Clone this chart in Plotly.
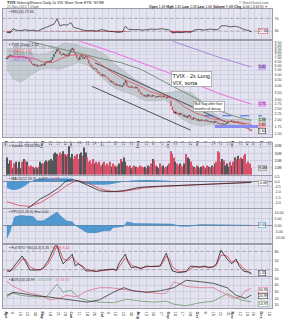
import numpy as np
import pandas as pd
import plotly.graph_objects as go

# ---------------- dates (trading days) ----------------
holidays = ["2012-04-06", "2012-05-28", "2012-07-04", "2012-09-03",
            "2012-10-29", "2012-10-30", "2012-11-22"]
all_days = [d for d in pd.bdate_range("2012-04-02", "2012-12-14")
            if d.strftime("%Y-%m-%d") not in holidays]

# ---------------- price data (daily) ----------------
closes = [7.05, 7.30, 7.45, 7.20, 7.35, 7.15, 7.25, 7.10, 7.20, 7.30,
          7.15, 7.20, 7.05, 7.10, 6.95, 6.60, 6.30, 6.10, 6.20, 6.00,
          6.10, 5.95, 6.05, 6.15, 6.00, 6.30, 6.55, 6.45, 6.60, 6.70,
          7.10, 7.60, 7.95, 8.40, 8.20, 7.60, 7.45, 7.70, 7.40, 7.55,
          7.30, 7.80, 8.30, 8.60, 7.90, 7.50, 7.05, 6.70, 7.20, 7.50,
          6.90, 7.10, 7.25, 6.80, 6.30, 6.00, 5.80, 5.60, 5.70, 5.40,
          5.20, 5.10, 4.95, 5.05, 4.85, 4.80, 4.70, 4.50, 4.35, 4.40,
          4.20, 4.10, 4.15, 4.00, 4.05, 3.95, 4.00, 4.20, 4.45, 3.95,
          3.90, 3.85, 3.95, 3.85, 3.80, 3.90, 3.75, 3.55, 3.40, 3.35,
          3.25, 3.30, 3.20, 3.35, 3.25, 3.20, 3.30, 3.25, 3.15, 3.20,
          3.25, 3.20, 3.15, 3.25, 3.20, 3.10, 3.20, 3.15, 2.65, 2.45,
          2.30, 2.35, 2.25, 2.20, 2.30, 2.25, 2.15, 2.20, 2.10, 2.15,
          2.20, 2.05, 2.00, 2.10, 2.05, 1.98, 2.02, 1.95, 2.00, 1.97,
          1.95, 2.00, 1.92, 1.95, 1.90, 1.93, 1.88, 1.95, 1.90, 1.86,
          1.84, 1.82, 1.86, 1.80, 1.83, 1.90, 1.95, 1.92, 1.97, 1.90,
          1.93, 1.88, 1.92, 1.85, 1.84, 1.86, 1.82, 1.78, 1.68, 1.66,
          1.62, 1.60]
opens = [6.90, 7.10, 7.35, 7.40, 7.25, 7.30, 7.20, 7.20, 7.15, 7.20,
         7.25, 7.10, 7.20, 7.00, 7.05, 6.85, 6.55, 6.25, 6.05, 6.15,
         5.95, 6.05, 6.00, 6.05, 6.20, 6.05, 6.35, 6.60, 6.50, 6.55,
         6.80, 7.20, 7.70, 8.00, 8.45, 8.10, 7.55, 7.50, 7.65, 7.35,
         7.50, 7.35, 7.85, 8.30, 8.50, 7.85, 7.45, 7.00, 6.80, 7.25,
         7.40, 6.95, 7.15, 7.20, 6.75, 6.25, 6.05, 5.75, 5.65, 5.65,
         5.35, 5.25, 5.05, 4.90, 5.00, 4.90, 4.75, 4.65, 4.50, 4.30,
         4.35, 4.20, 4.05, 4.10, 3.98, 4.05, 3.90, 4.05, 4.25, 4.35,
         3.98, 3.92, 3.88, 3.92, 3.88, 3.82, 3.88, 3.72, 3.52, 3.42,
         3.32, 3.22, 3.28, 3.22, 3.32, 3.27, 3.22, 3.28, 3.22, 3.18,
         3.20, 3.27, 3.20, 3.18, 3.27, 3.18, 3.12, 3.22, 2.95, 2.60,
         2.42, 2.28, 2.33, 2.27, 2.22, 2.28, 2.24, 2.14, 2.18, 2.08,
         2.14, 2.18, 2.06, 2.02, 2.08, 2.04, 1.97, 2.00, 1.96, 1.99,
         1.97, 1.96, 1.98, 1.93, 1.94, 1.91, 1.92, 1.89, 1.94, 1.89,
         1.87, 1.85, 1.83, 1.85, 1.81, 1.85, 1.90, 1.94, 1.93, 1.96,
         1.90, 1.92, 1.89, 1.91, 1.86, 1.85, 1.85, 1.81, 1.76, 1.69,
         1.65, 1.63]
volume_m = [24, 15.5, 20, 20, 9, 15.5, 18, 9, 18, 9,
            18, 22, 20, 18, 13, 11, 13, 11, 9, 11,
            9, 11, 18, 15.5, 15.5, 18, 20, 18, 20, 22,
            20, 29, 31, 29, 26.7, 31, 29, 33, 29, 26.7,
            29, 40, 24, 29, 22, 26.7, 29, 22, 29, 31,
            26.7, 38, 31, 24, 18, 20, 15.5, 22, 15.5, 18,
            15.5, 18, 13, 15.5, 18, 13, 15.5, 13, 18, 11,
            15.5, 13, 11, 13, 15.5, 22, 18, 24, 18, 13,
            11, 13, 9, 11, 13, 11, 9, 11, 13, 11,
            10, 11, 9, 13, 11, 15.5, 22, 20, 13, 11,
            9, 15.5, 11, 13, 9, 11, 13, 15.5, 33, 29,
            24, 18, 15.5, 13, 15.5, 13, 11, 15.5, 29, 24,
            22, 18, 13, 11, 9, 13, 11, 9, 11, 13,
            11, 9, 13, 11, 10, 13, 11, 15.5, 18, 33,
            31, 18, 22, 20, 13, 15.5, 11, 18, 13, 18,
            24, 22, 26.7, 22, 24, 22, 26.7, 29, 15.5, 18,
            15.5, 9.4]

# ---------------- overlays (read as knots: trading-day index, value) ----------------
ma20_idx = [0, 10, 17, 24, 30, 36, 42, 50, 54, 59, 68, 78, 88, 94, 104, 111, 117, 124, 134, 144, 153, 161]
ma20_val = [7.25, 7.2, 7.0, 6.45, 6.4, 7.0, 7.45, 7.5, 7.2, 6.6, 5.4, 4.5, 3.95, 3.55, 3.28, 3.0, 2.6, 2.3, 2.07, 1.95, 1.9, 1.82]
ma50_idx = [0, 17, 33, 46, 61, 75, 88, 100, 110, 120, 130, 140, 150, 161]
ma50_val = [11.0, 9.7, 8.6, 7.8, 7.0, 6.4, 5.6, 4.6, 3.9, 3.3, 2.8, 2.4, 2.15, 1.98]
ma100_idx = [30, 48, 70, 91, 110, 127, 140, 161]
ma100_val = [11.5, 9.9, 7.9, 6.2, 5.0, 4.0, 3.4, 2.75]
ma200_idx = [60, 90, 109, 125, 140, 161]
ma200_val = [17.0, 14.0, 9.9, 8.4, 7.1, 5.85]
bb_up_idx = [0, 9, 22, 28, 33, 38, 45, 51, 58, 65, 71, 78, 84, 91, 98, 104, 109, 114, 121, 127, 134, 140, 147, 154, 161]
bb_up_val = [8.5, 7.9, 7.6, 7.8, 8.8, 9.5, 9.3, 8.7, 8.3, 7.5, 6.2, 5.3, 4.6, 4.1, 3.6, 3.45, 3.5, 3.6, 3.5, 3.0, 2.4, 2.1, 2.0, 2.03, 2.02]
bb_lo_idx = [0, 4, 9, 15, 22, 28, 35, 42, 47, 53, 58, 65, 71, 78, 84, 91, 98, 104, 109, 114, 121, 127, 134, 140, 147, 154, 161]
bb_lo_val = [5.6, 4.6, 4.3, 4.9, 5.6, 5.7, 5.6, 6.0, 6.4, 6.1, 5.4, 4.4, 3.8, 3.5, 3.3, 2.95, 2.95, 3.0, 2.7, 2.1, 1.85, 1.78, 1.82, 1.80, 1.78, 1.78, 1.60]
chan_up_idx = [58, 144]
chan_up_val = [6.36, 1.92]
chan_lo_idx = [56, 121]
chan_lo_val = [3.95, 1.62]
flag_top_idx = [130, 168]
flag_top_val = [2.17, 2.17]
flag_bot_idx = [137, 169]
flag_bot_val = [1.75, 1.75]

# ---------------- indicators (knots) ----------------
rsi_idx = [0, 2, 4, 6, 9, 12, 15, 17, 20, 23, 26, 29, 31, 33, 35, 37, 40, 42, 44, 47,
           50, 53, 56, 59, 62, 64, 67, 70, 73, 76, 78, 80, 83, 86, 89, 92, 95, 98, 101, 104,
           107, 109, 112, 115, 118, 121, 124, 127, 130, 133, 136, 139, 141, 144, 147, 150, 153, 156, 159, 161]
rsi_val = [26, 24, 37, 33, 31, 34, 31, 33, 30, 36, 41, 46, 52, 68, 46, 50, 49, 57, 41, 38,
           33, 31, 32, 30, 34, 33, 29, 28, 26, 27, 45, 36, 34, 35, 33, 34, 36, 35, 37, 36,
           33, 24, 26, 25, 27, 26, 34, 35, 33, 36, 35, 34, 46, 47, 43, 45, 42, 35, 32, 27]

macd_idx = [0, 8, 15, 22, 28, 34, 39, 43, 47, 52, 57, 61, 66, 70, 77, 82, 87, 95, 105, 115, 127, 138, 149, 161]
macd_val = [-3.2, -3.0, -2.4, -1.64, -1.18, -0.6, 0.06, 0.21, 0.05, -0.25, -0.6, -0.86, -0.95, -0.95, -0.86, -0.7, -0.56, -0.47, -0.40, -0.33, -0.25, -0.2, -0.16, -0.08]
sig_idx = [0, 8, 15, 22, 28, 34, 39, 46, 52, 57, 61, 66, 72, 77, 82, 90, 100, 110, 127, 145, 161]
sig_val = [-1.9, -2.25, -2.35, -2.0, -1.48, -0.95, -0.4, 0.12, -0.05, -0.35, -0.65, -0.85, -0.95, -0.92, -0.82, -0.6, -0.48, -0.4, -0.27, -0.16, -0.07]
hist_idx = [0, 4, 8, 12, 16, 20, 28, 36, 42, 47, 52, 58, 64, 70, 76, 82, 90, 100, 108, 112, 118, 130, 145, 161]
hist_val = [-0.6, -0.8, -0.7, -0.4, 0.0, 0.25, 0.3, 0.3, 0.2, -0.05, -0.2, -0.3, -0.3, -0.2, -0.05, 0.1, 0.15, 0.12, 0.05, -0.03, 0.02, 0.03, 0.02, -0.004]

ppo_idx = [0, 2, 5, 9, 13, 17, 20, 24, 28, 33, 35, 39, 43, 45, 48, 53, 59, 64, 68, 70,
           77, 79, 84, 90, 95, 102, 109, 114, 120, 127, 138, 149, 152, 161]
ppo_val = [-10.1, -5.0, 6.5, 7.7, 7.3, 7.0, 3.5, 3.5, 6.5, 10.4, 7.7, 3.5, 2.7, 0.0, -2.4, -5.8, -5.8, -4.3, -4.3, -1.8,
           -1.0, 2.7, 1.4, 1.4, 1.0, 1.0, 1.0, -0.8, -0.8, 0.6, 0.6, 0.6, 0.2, 0.0]

sto_idx = [0, 2, 4, 7, 10, 12, 15, 19, 22, 24, 27, 30, 32, 33, 35, 37, 40, 43, 45, 47,
           50, 52, 56, 59, 62, 66, 70, 72, 74, 78, 80, 82, 85, 88, 92, 95, 99, 101, 103, 105,
           107, 109, 113, 118, 121, 124, 127, 130, 133, 136, 138, 141, 145, 148, 151, 153, 156, 159, 161]
sto_k = [16, 14, 27, 48, 65, 48, 19, 19, 20, 27, 48, 80, 100, 100, 65, 39, 55, 71, 32, 40,
         28, 16, 16, 14, 18, 20, 22, 17, 42, 71, 42, 26, 30, 23, 32, 30, 32, 32, 55, 74,
         42, 16, 10, 14, 32, 30, 28, 32, 26, 30, 39, 84, 55, 39, 55, 32, 15, 12, 6]
sto_d = [20, 16, 20, 35, 55, 55, 30, 20, 19, 24, 38, 65, 88, 97, 82, 55, 50, 62, 50, 38,
         32, 22, 17, 15, 16, 19, 21, 19, 30, 58, 50, 35, 28, 26, 29, 31, 31, 32, 45, 65,
         55, 30, 14, 13, 24, 30, 29, 30, 29, 29, 34, 68, 65, 45, 48, 40, 24, 14, 9]

mdi_idx = [0, 4, 13, 22, 28, 35, 39, 46, 53, 61, 68, 75, 83, 94, 101, 105, 110, 118, 127, 136, 140, 145, 149, 154, 157, 161]
mdi_val = [45.7, 38, 29, 24.7, 18, 20.3, 24.7, 22.6, 31.4, 36, 36, 33.7, 31.4, 29.2, 27, 27.9, 44.8, 38, 36, 36, 31.4, 24.7, 20.3, 22.6, 31.4, 34.9]
adx_idx = [0, 4, 11, 17, 26, 35, 44, 53, 61, 70, 77, 83, 92, 101, 110, 118, 127, 136, 145, 151, 157, 161]
adx_val = [24.7, 29.2, 27, 24.7, 22.6, 20.3, 18, 14.6, 18, 29.2, 36, 31.4, 29.2, 31.4, 36, 47, 45, 42.5, 36, 24.7, 20.3, 25]
pdi_idx = [0, 4, 9, 17, 26, 33, 37, 42, 48, 55, 61, 70, 79, 88, 97, 105, 110, 118, 127, 136, 145, 149, 154, 161]
pdi_val = [22.6, 27.9, 24.7, 22.6, 22.6, 41.2, 29.2, 32.5, 20.3, 16, 14.6, 13.7, 19, 16, 14.6, 16, 11.5, 9.2, 13.7, 16, 27, 23.5, 18, 15]

# ---------------- layout helpers ----------------
W, H = 287, 320
def py(y):
    return 1 - y / H
def pxx(x):
    return x / W

PLOT_BG = "#e4e4f0"
GRID = "#d0d0e2"
FONT = "Liberation Sans"
RED = "#d8314a"

n = len(closes)
xi = np.arange(n)

fig = go.Figure()

# panels: (top_px, bottom_px)
panels = {1: (8, 39), 2: (41, 139), 3: (145, 177), 4: (178, 211),
          5: (212, 247), 6: (249, 280), 7: (281, 313)}

def ax(k):
    return ("x" if k == 1 else f"x{k}"), ("y" if k == 1 else f"y{k}")

# ---- RSI (panel 1)
xa, ya = ax(1)
fig.add_trace(go.Scatter(x=rsi_idx, y=[30] * len(rsi_idx), mode="lines", line=dict(width=0),
                         xaxis=xa, yaxis=ya))
fig.add_trace(go.Scatter(x=rsi_idx, y=[min(v, 30) for v in rsi_val], mode="lines", line=dict(width=0),
                         fill="tonexty", fillcolor="rgba(210,40,60,0.8)", xaxis=xa, yaxis=ya))
for lvl in (70, 30):
    fig.add_trace(go.Scatter(x=[-3, 176], y=[lvl, lvl], mode="lines",
                             line=dict(color="#888", width=0.6, dash="dot"), xaxis=xa, yaxis=ya))
fig.add_trace(go.Scatter(x=rsi_idx, y=rsi_val, mode="lines", line=dict(color="#222", width=0.7),
                         xaxis=xa, yaxis=ya))

# ---- main price (panel 2)
xa, ya = ax(2)
fig.add_trace(go.Scatter(x=bb_up_idx, y=bb_up_val, mode="lines", line=dict(color="#a3adab", width=0.5),
                         xaxis=xa, yaxis=ya))
fig.add_trace(go.Scatter(x=bb_lo_idx, y=bb_lo_val, mode="lines", line=dict(color="#a3adab", width=0.5),
                         fill="tonexty", fillcolor="rgba(150,168,160,0.38)", xaxis=xa, yaxis=ya))
fig.add_trace(go.Scatter(x=ma200_idx, y=ma200_val, mode="lines", line=dict(color="#a77ad8", width=0.9),
                         xaxis=xa, yaxis=ya))
fig.add_trace(go.Scatter(x=ma100_idx, y=ma100_val, mode="lines", line=dict(color="#ee5fe8", width=0.9),
                         xaxis=xa, yaxis=ya))
fig.add_trace(go.Scatter(x=ma50_idx, y=ma50_val, mode="lines", line=dict(color="#6a8a70", width=0.9),
                         xaxis=xa, yaxis=ya))
fig.add_trace(go.Scatter(x=chan_up_idx, y=chan_up_val, mode="lines", line=dict(color="#505058", width=1),
                         xaxis=xa, yaxis=ya))
fig.add_trace(go.Scatter(x=chan_lo_idx, y=chan_lo_val, mode="lines", line=dict(color="#505058", width=1),
                         xaxis=xa, yaxis=ya))
fig.add_trace(go.Scatter(x=flag_bot_idx, y=flag_bot_val, mode="lines", line=dict(color="#8a8af0", width=3),
                         xaxis=xa, yaxis=ya))
fig.add_trace(go.Scatter(x=flag_top_idx, y=flag_top_val, mode="lines",
                         line=dict(color="#3a5ae8", width=1, dash="dash"), xaxis=xa, yaxis=ya))
fig.add_trace(go.Scatter(x=ma20_idx, y=ma20_val, mode="lines", line=dict(color="#e0505a", width=0.8),
                         xaxis=xa, yaxis=ya))
o = np.array(opens)
c = np.array(closes)
fig.add_trace(go.Candlestick(x=xi, open=o, close=c, high=np.maximum(o, c), low=np.minimum(o, c),
                             increasing=dict(line=dict(color="#222", width=0.6), fillcolor="#222"),
                             decreasing=dict(line=dict(color=RED, width=0.6), fillcolor=RED),
                             whiskerwidth=0, xaxis=xa, yaxis=ya))

# ---- volume (panel 3)
xa, ya = ax(3)
vcol = ["#555558"] + ["#555558" if closes[i] >= closes[i - 1] else "#d9506a" for i in range(1, n)]
fig.add_trace(go.Bar(x=xi, y=volume_m, marker=dict(color=vcol, line=dict(width=0)),
                     width=0.75, xaxis=xa, yaxis=ya))

# ---- MACD (panel 4)
xa, ya = ax(4)
fig.add_trace(go.Scatter(x=hist_idx, y=hist_val, mode="lines", line=dict(width=0, shape="spline"),
                         fill="tozeroy", fillcolor="rgba(50,140,205,0.85)", xaxis=xa, yaxis=ya))
fig.add_trace(go.Scatter(x=sig_idx, y=sig_val, mode="lines", line=dict(color="#e04050", width=0.8),
                         xaxis=xa, yaxis=ya))
fig.add_trace(go.Scatter(x=macd_idx, y=macd_val, mode="lines", line=dict(color="#222", width=0.8),
                         xaxis=xa, yaxis=ya))

# ---- PPO histogram (panel 5)
xa, ya = ax(5)
fig.add_trace(go.Scatter(x=ppo_idx, y=ppo_val, mode="lines", line=dict(width=0.4, color="#2a78b8"),
                         fill="tozeroy", fillcolor="rgba(55,140,200,0.85)", xaxis=xa, yaxis=ya))

# ---- Stochastics (panel 6)
xa, ya = ax(6)
for lvl in (80, 20):
    fig.add_trace(go.Scatter(x=[-3, 176], y=[lvl, lvl], mode="lines",
                             line=dict(color="#888", width=0.6, dash="dot"), xaxis=xa, yaxis=ya))
fig.add_trace(go.Scatter(x=sto_idx, y=sto_d, mode="lines", line=dict(color="#e04050", width=0.8),
                         xaxis=xa, yaxis=ya))
fig.add_trace(go.Scatter(x=sto_idx, y=sto_k, mode="lines", line=dict(color="#222", width=0.8),
                         xaxis=xa, yaxis=ya))

# ---- ADX (panel 7)
xa, ya = ax(7)
fig.add_trace(go.Scatter(x=pdi_idx, y=pdi_val, mode="lines", line=dict(color="#6a9a6a", width=0.8),
                         xaxis=xa, yaxis=ya))
fig.add_trace(go.Scatter(x=mdi_idx, y=mdi_val, mode="lines", line=dict(color="#e0708a", width=0.8),
                         xaxis=xa, yaxis=ya))
fig.add_trace(go.Scatter(x=adx_idx, y=adx_val, mode="lines", line=dict(color="#333", width=0.8),
                         xaxis=xa, yaxis=ya))

# ---------------- axes ----------------
tickvals, ticktext = [], []
prev_month = None
for i, d in enumerate(all_days):
    if i == 0 or d.isocalendar()[1] != all_days[i - 1].isocalendar()[1]:
        tickvals.append(i)
        if d.month != prev_month:
            ticktext.append("<b>" + d.strftime("%b") + "</b>")
        else:
            ticktext.append(str(d.day))
        prev_month = d.month

xrange_ = [-2.6, 174.6]
yspecs = {
    1: dict(range=[4, 100], tickvals=[30, 70], ticktext=["30", "70"]),
    2: dict(type="log", range=[np.log10(1.40), np.log10(9.88)],
            tickvals=[1.5, 1.75, 2, 2.25, 2.5, 2.75, 3, 3.5, 4, 4.5, 5, 5.5, 6, 6.5, 7, 7.5, 8, 8.5, 9, 9.5],
            ticktext=["1.50", "1.75", "2.00", "2.25", "2.50", "2.75", "3.00", "3.50", "4.00", "4.50",
                      "5.00", "5.50", "6.00", "6.50", "7.00", "7.50", "8.00", "8.50", "9.00", "9.50"]),
    3: dict(range=[0, 44], tickvals=[10, 20, 30, 40], ticktext=["10M", "20M", "30M", "40M"]),
    4: dict(range=[-2.5, 0.556], tickvals=[0.5, 0, -0.5, -1, -1.5, -2],
            ticktext=["0.5", "0.0", "-0.5", "-1.0", "-1.5", "-2.0"]),
    5: dict(range=[-14.2, 12.7], tickvals=[10, 5, 0, -5, -10],
            ticktext=["10.00", "5.00", "0.00", "-5.00", "-10.00"]),
    6: dict(range=[0, 100], tickvals=[20, 50, 80], ticktext=["20", "50", "80"]),
    7: dict(range=[5.7, 52.3], tickvals=[10, 20, 30, 40, 50], ticktext=["10", "20", "30", "40", "50"]),
}
layout = dict(width=W, height=H, margin=dict(l=3, r=15, t=0, b=0),
              paper_bgcolor="white", plot_bgcolor=PLOT_BG, showlegend=False,
              hovermode=False, font=dict(family=FONT, size=4, color="#333"))
for k, (t, b) in panels.items():
    xname = "xaxis" if k == 1 else f"xaxis{k}"
    yname = "yaxis" if k == 1 else f"yaxis{k}"
    xa, ya = ax(k)
    layout[xname] = dict(domain=[0, 1], anchor=ya, range=xrange_, tickmode="array",
                         tickvals=tickvals, ticktext=ticktext, showticklabels=(k in (2, 7)),
                         ticks="", showgrid=True, gridcolor=GRID, gridwidth=0.5, zeroline=False,
                         showline=True, linecolor="#9a9aa8", linewidth=0.6, mirror=True,
                         tickfont=dict(size=3.8, color="#333"), ticklabelstandoff=0,
                         rangeslider=dict(visible=False), fixedrange=True)
    if k != 1:
        layout[xname]["matches"] = "x"
    spec = yspecs[k]
    layout[yname] = dict(domain=[py(b), py(t)], anchor=xa, side="right", tickmode="array",
                         showgrid=True, gridcolor=GRID, gridwidth=0.5, zeroline=(k in (4, 5)),
                         zerolinecolor="#8a8a9a", zerolinewidth=0.5,
                         showline=True, linecolor="#9a9aa8", linewidth=0.6, mirror=True,
                         tickfont=dict(size=3.6, color="#333"), ticks="", ticklabelstandoff=1,
                         fixedrange=True, **spec)
fig.update_layout(**layout)

# ---------------- text ----------------
ann = []
def txt(x, y, s, size=4, color="#222", xanchor="left", **kw):
    ann.append(dict(x=pxx(x), y=py(y), xref="paper", yref="paper", text=s, showarrow=False,
                    xanchor=xanchor, yanchor="middle", font=dict(size=size, color=color, family=FONT), **kw))

txt(2, 2.5, "<b>TVIX</b> VelocityShares Daily 2x VIX Short Term ETN  NYSE", size=3.8)
txt(2, 6, "21-Nov-2012 1:55pm", size=3.4, color="#555")
txt(285, 2.5, "© StockCharts.com", size=3.4, color="#555", xanchor="right")
txt(285, 6, "<b>Open</b> 1.63 <b>High</b> 1.65 <b>Low</b> 1.58 <b>Last</b> 1.60 <b>Volume</b> 9.4M "
            "<b>Chg</b> -0.06 (-3.61%) <span style='color:#d8314a'>▼</span>", size=3.4, xanchor="right")
txt(4, 11, "▪ RSI(14) 27.66", size=3.6)

txt(4, 45, "▪ TVIX (Daily) 1.60", size=3.6)
txt(4, 48, "— BB(20,2.0) 2.02, 1.82, 1.60", size=3.4, color="#7d8a86")
txt(4, 51, "— MA(20) 1.82", size=3.4, color="#e0505a")
txt(4, 54, "— MA(50) 1.98", size=3.4, color="#6a8a70")
txt(4, 57, "— MA(100) 2.75", size=3.4, color="#ee5fe8")
txt(4, 60, "— MA(200) 5.85", size=3.4, color="#a77ad8")

txt(4, 148, "▪ Volume 9,418,990", size=3.6)
txt(4, 181, "▪ MACD(12,26,9) -0.077, <span style='color:#e04050'>-0.073</span>, "
            "<span style='color:#328ccd'>-0.004</span>", size=3.6)
txt(4, 215, "▪ PPO(12,26,9) Hist 0.00", size=3.6)
txt(4, 252, "▪ Full STO %K(14,3) 5.35  <span style='color:#e04050'>%D(3) 9.24</span>", size=3.6)
txt(4, 284, "▪ ADX(14) 24.99  <span style='color:#6a9a6a'>+DI 14.97</span>  "
            "<span style='color:#e0708a'>-DI 34.93</span>", size=3.6)

# chart notes
ann.append(dict(x=pxx(179), y=py(79.5), xref="paper", yref="paper", xanchor="left", yanchor="middle",
                text="TVIX - 2x Long<br>VIX, sorta", showarrow=False, align="left",
                font=dict(size=5.6, color="#111", family=FONT), bgcolor="white",
                bordercolor="#888", borderwidth=0.6, borderpad=1))
ann.append(dict(x=pxx(203), y=py(108), xref="paper", yref="paper", xanchor="left", yanchor="middle",
                text="Bull flag after four<br>months of decay", showarrow=False, align="left",
                font=dict(size=3.6, color="#111", family=FONT), bgcolor="white",
                bordercolor="#888", borderwidth=0.6, borderpad=0.8))

# right-axis value tags
def tag(y, s, bg, fg="#111", border=None):
    ann.append(dict(x=pxx(272.5), y=py(y), xref="paper", yref="paper", xanchor="left", yanchor="middle",
                    text=s, showarrow=False, font=dict(size=3.5, color=fg, family=FONT), bgcolor=bg,
                    bordercolor=border or bg, borderwidth=0.5, borderpad=0.3))

tag(30.5, "27.66", "white", border=RED)
tag(67, "5.85", "#c9a9ef")
tag(105, "2.75", "#f4a0f0")
tag(121, "1.98", "#b6cfb8")
tag(126, "1.82", "#f2b0b5")
tag(132, "1.60", "white", border="#222")
tag(170, "9.4M", "#ddd", border="#888")
tag(185, "-0.08", "white", border="#888")
tag(228.5, "0.00", "white", border="#328ccd")
tag(277.5, "5.35", "white", border="#222")
tag(295, "34.93", "white", border="#e0708a")
tag(301, "24.99", "white", border="#222")
tag(309, "14.97", "white", border="#6a9a6a")

fig.update_layout(annotations=ann)
fig.write_html("out.html")
